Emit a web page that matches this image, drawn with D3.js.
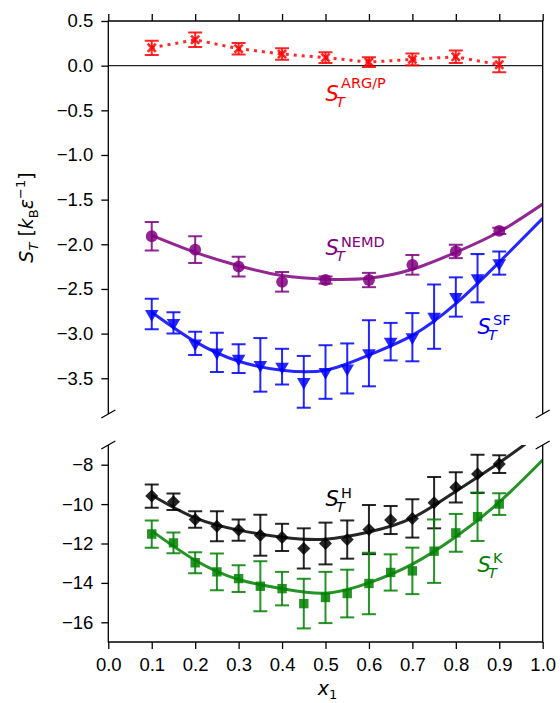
<!DOCTYPE html>
<html lang="en">
<head>
<meta charset="UTF-8">
<title>Soret coefficient vs composition</title>
<script src="https://cdn.jsdelivr.net/npm/d3@7"></script>
<style>
    body { margin: 0; background: #fff; }
    svg { font-family: "DejaVu Sans", sans-serif; }
    .tick text { font-size: 18.5px; fill: #000; }
    .tick line { stroke: #000; stroke-width: 1.3; }
</style>
</head>
<body>
<svg id="chart" width="560" height="703"></svg>
<script>
// x positions
const xCoarse = [0.1, 0.2, 0.3, 0.4, 0.5, 0.6, 0.7, 0.8, 0.9];
const xFine = [0.1, 0.15, 0.2, 0.25, 0.3, 0.35, 0.4, 0.45, 0.5, 0.55, 0.6, 0.65, 0.7, 0.75, 0.8, 0.85, 0.9];
const xFit = [0.1, 0.2, 0.3, 0.4, 0.5, 0.6, 0.7, 0.8, 0.9, 1.0];

// S_T^ARG/P
const argpVals = [0.20, 0.29, 0.19, 0.13, 0.09, 0.04, 0.07, 0.10, 0.01];
const argpErr = [0.08, 0.08, 0.065, 0.065, 0.06, 0.055, 0.065, 0.07, 0.085];

// S_T^NEMD
const nemdVals = [-1.91, -2.06, -2.25, -2.42, -2.40, -2.40, -2.23, -2.08, -1.85];
const nemdErr = [0.16, 0.15, 0.11, 0.11, 0.04, 0.08, 0.11, 0.075, 0.035];
const nemdFit = [-1.90, -2.09, -2.24, -2.35, -2.39, -2.38, -2.28, -2.09, -1.86, -1.55];

// S_T^SF
const sfVals = [-2.78, -2.88, -3.11, -3.21, -3.28, -3.35, -3.37, -3.54, -3.43, -3.39, -3.22, -3.09, -3.04, -2.81, -2.59, -2.38, -2.21];
const sfErr = [0.17, 0.12, 0.13, 0.22, 0.16, 0.30, 0.20, 0.29, 0.30, 0.28, 0.37, 0.21, 0.27, 0.36, 0.22, 0.27, 0.13];
const sfFit = [-2.76, -3.09, -3.31, -3.41, -3.41, -3.24, -3.02, -2.665, -2.20, -1.71];

// S_T^H
const hVals = [-9.59, -9.88, -10.78, -11.12, -11.32, -11.58, -11.69, -12.25, -12.00, -11.80, -11.29, -10.81, -10.73, -9.93, -9.15, -8.47, -7.97];
const hErr = [0.59, 0.42, 0.42, 0.76, 0.54, 1.04, 0.69, 1.02, 1.06, 0.97, 1.25, 0.71, 0.97, 1.30, 0.77, 0.97, 0.45];
const hFit = [-9.55, -10.70, -11.32, -11.68, -11.78, -11.42, -10.70, -9.35, -7.90, -6.30];

// S_T^K
const kVals = [-11.52, -11.97, -12.98, -13.44, -13.78, -14.17, -14.29, -15.05, -14.74, -14.54, -14.03, -13.47, -13.39, -12.39, -11.46, -10.64, -10.00];
const kErr = [0.69, 0.53, 0.53, 0.93, 0.68, 1.27, 0.85, 1.26, 1.30, 1.21, 1.56, 0.92, 1.18, 1.61, 0.96, 1.23, 0.55];
const kFit = [-11.36, -12.85, -13.83, -14.29, -14.52, -14.00, -13.05, -11.66, -9.90, -7.76];

// ticks
const xTicks = [0.0, 0.1, 0.2, 0.3, 0.4, 0.5, 0.6, 0.7, 0.8, 0.9, 1.0];
const topYTicks = [0.5, 0.0, -0.5, -1.0, -1.5, -2.0, -2.5, -3.0, -3.5];
const botYTicks = [-8, -10, -12, -14, -16];

const svg = d3.select("#chart");

const x = d3.scaleLinear().domain([0, 1]).range([108.3, 542.7]);
const yTop = d3.scaleLinear().domain([-3.9, 0.5]).range([414, 21]);
const yBot = d3.scaleLinear().domain([-17, -7]).range([642, 445]);

const alpha = 0.85;

// clip regions for the two panels
const defs = svg.append("defs");
defs.append("clipPath").attr("id", "clipTop").append("rect")
    .attr("x", x(0)).attr("y", yTop(0.5))
    .attr("width", x(1) - x(0)).attr("height", yTop(-3.9) - yTop(0.5));
defs.append("clipPath").attr("id", "clipBot").append("rect")
    .attr("x", x(0)).attr("y", yBot(-7))
    .attr("width", x(1) - x(0)).attr("height", yBot(-17) - yBot(-7));

const gTop = svg.append("g").attr("clip-path", "url(#clipTop)");
const gBot = svg.append("g").attr("clip-path", "url(#clipBot)");

// zero line
gTop.append("line")
    .attr("x1", x(0)).attr("x2", x(1))
    .attr("y1", yTop(0)).attr("y2", yTop(0))
    .attr("stroke", "#222").attr("stroke-width", 1.2);

function drawFit(g, y, vals, color) {
    const line = d3.line()
        .x((d, i) => x(xFit[i]))
        .y(d => y(d))
        .curve(d3.curveNatural);
    g.append("path")
        .datum(vals)
        .attr("d", line)
        .attr("fill", "none")
        .attr("stroke", color)
        .attr("stroke-opacity", alpha)
        .attr("stroke-width", 3);
}

function drawSeries(g, y, xs, vals, errs, color, symbolType, size, rotate, opts = {}) {
    const data = xs.map((xv, i) => ({ x: xv, v: vals[i], e: errs[i] }));

    if (opts.dotted) {
        g.append("path")
            .datum(data)
            .attr("d", d3.line().x(d => x(d.x)).y(d => y(d.v)))
            .attr("fill", "none")
            .attr("stroke", color)
            .attr("stroke-opacity", alpha)
            .attr("stroke-width", 3)
            .attr("stroke-dasharray", "3,5");
    }

    const eb = g.append("g")
        .attr("stroke", color)
        .attr("stroke-opacity", alpha)
        .attr("stroke-width", 2);
    eb.selectAll(".bar").data(data).enter().append("line")
        .attr("x1", d => x(d.x)).attr("x2", d => x(d.x))
        .attr("y1", d => y(d.v - d.e)).attr("y2", d => y(d.v + d.e));
    eb.selectAll(".capTop").data(data).enter().append("line")
        .attr("x1", d => x(d.x) - 7).attr("x2", d => x(d.x) + 7)
        .attr("y1", d => y(d.v + d.e)).attr("y2", d => y(d.v + d.e));
    eb.selectAll(".capBot").data(data).enter().append("line")
        .attr("x1", d => x(d.x) - 7).attr("x2", d => x(d.x) + 7)
        .attr("y1", d => y(d.v - d.e)).attr("y2", d => y(d.v - d.e));

    const sym = d3.symbol().type(symbolType).size(size);
    const marks = g.append("g").selectAll("path").data(data).enter().append("path")
        .attr("d", sym)
        .attr("transform", d => `translate(${x(d.x)},${y(d.v)}) rotate(${rotate})`);
    if (opts.stroke) {
        marks.attr("fill", "none").attr("stroke", color)
            .attr("stroke-opacity", alpha).attr("stroke-width", 2.6);
    } else {
        marks.attr("fill", color).attr("fill-opacity", alpha);
    }
}

// top panel
drawSeries(gTop, yTop, xCoarse, argpVals, argpErr, "#ff0000", d3.symbolX || d3.symbolCross, 45, 0, { dotted: true, stroke: true });
drawFit(gTop, yTop, nemdFit, "#800080");
drawSeries(gTop, yTop, xCoarse, nemdVals, nemdErr, "#800080", d3.symbolCircle, 110, 0);
drawFit(gTop, yTop, sfFit, "#0000ff");
drawSeries(gTop, yTop, xFine, sfVals, sfErr, "#0000ff", d3.symbolTriangle, 80, 180);

// bottom panel
drawFit(gBot, yBot, hFit, "#000000");
drawSeries(gBot, yBot, xFine, hVals, hErr, "#000000", d3.symbolSquare, 85, 45);
drawFit(gBot, yBot, kFit, "#008000");
drawSeries(gBot, yBot, xFine, kVals, kErr, "#008000", d3.symbolSquare, 88, 0);

// S_T^{...} annotations (superscript raised more when it has a descender)
function mathLabel(xv, yv, y, color, sub, sup, raise) {
    const size = 21;
    const px = x(xv), py = y(yv);
    const t = svg.append("text").attr("fill", color).attr("font-size", size);
    t.append("tspan").attr("x", px).attr("y", py).attr("font-style", "italic").text("S");
    t.append("tspan").attr("x", px + 10.5).attr("y", py + 6)
        .attr("font-size", 14.5).attr("font-style", "italic").text(sub);
    t.append("tspan").attr("x", px + 15.5).attr("y", py - raise)
        .attr("font-size", 14.5).text(sup);
}
mathLabel(0.5, -0.40, yTop, "#ff0000", "T", "ARG/P", 13.5);
mathLabel(0.5, -2.12, yTop, "#800080", "T", "NEMD", 8.5);
mathLabel(0.85, -3.0, yTop, "#0000ff", "T", "SF", 8.5);
mathLabel(0.5, -10.1, yBot, "#000000", "T", "H", 8.5);
mathLabel(0.85, -13.43, yBot, "#008000", "T", "K", 8.5);

// axes
function clean(g) { g.select(".domain").remove(); }

svg.append("g")
    .attr("transform", `translate(0,${yTop(0.5)})`)
    .call(d3.axisTop(x).tickValues(xTicks).tickFormat("").tickSize(7))
    .call(clean);
svg.append("g")
    .attr("transform", `translate(${x(0)},0)`)
    .call(d3.axisLeft(yTop).tickValues(topYTicks).tickFormat(d3.format(".1f")).tickSize(7).tickPadding(8))
    .call(clean);
svg.append("g")
    .attr("transform", `translate(${x(0)},0)`)
    .call(d3.axisLeft(yBot).tickValues(botYTicks).tickFormat(d3.format("d")).tickSize(7).tickPadding(8))
    .call(clean);
svg.append("g")
    .attr("transform", `translate(0,${yBot(-17)})`)
    .call(d3.axisBottom(x).tickValues(xTicks).tickFormat(d3.format(".1f")).tickSize(7).tickPadding(9))
    .call(clean);
svg.selectAll(".tick text").attr("font-family", null).attr("font-size", null);

// spines
const spines = svg.append("g").attr("stroke", "#000").attr("stroke-width", 1.3).attr("fill", "none");
spines.append("path").attr("d",
    `M${x(0)},${yTop(-3.9)}V${yTop(0.5)}H${x(1)}V${yTop(-3.9)}`);
spines.append("path").attr("d",
    `M${x(0)},${yBot(-7)}V${yBot(-17)}H${x(1)}V${yBot(-7)}`);

// break marks
[[x(0), yTop(-3.9)], [x(1), yTop(-3.9)], [x(0), yBot(-7)], [x(1), yBot(-7)]].forEach(([bx, by]) => {
    spines.append("line")
        .attr("x1", bx - 7).attr("y1", by + 4)
        .attr("x2", bx + 7).attr("y2", by - 4);
});

// axis labels
const yl = svg.append("text")
    .attr("transform", `translate(33,${(yTop(0.5) + yTop(-3.9)) / 2}) rotate(-90)`)
    .attr("text-anchor", "middle")
    .attr("font-size", 19);
yl.append("tspan").attr("font-style", "italic").text("S");
yl.append("tspan").attr("font-style", "italic").attr("font-size", 13).attr("dy", 5).text("T");
yl.append("tspan").attr("dy", -5).text(" [");
yl.append("tspan").attr("font-style", "italic").text("k");
yl.append("tspan").attr("font-size", 13).attr("dy", 5).text("B");
yl.append("tspan").attr("font-style", "italic").attr("dy", -5).text("ε");
yl.append("tspan").attr("font-size", 13).attr("dy", -8).text("−1");
yl.append("tspan").attr("dy", 8).text("]");

const xl = svg.append("text")
    .attr("x", (x(0) + x(1)) / 2 + 2)
    .attr("y", 695)
    .attr("text-anchor", "middle")
    .attr("font-size", 19);
xl.append("tspan").attr("font-style", "italic").text("x");
xl.append("tspan").attr("font-size", 13).attr("dy", 4).text("1");
</script>
</body>
</html>
